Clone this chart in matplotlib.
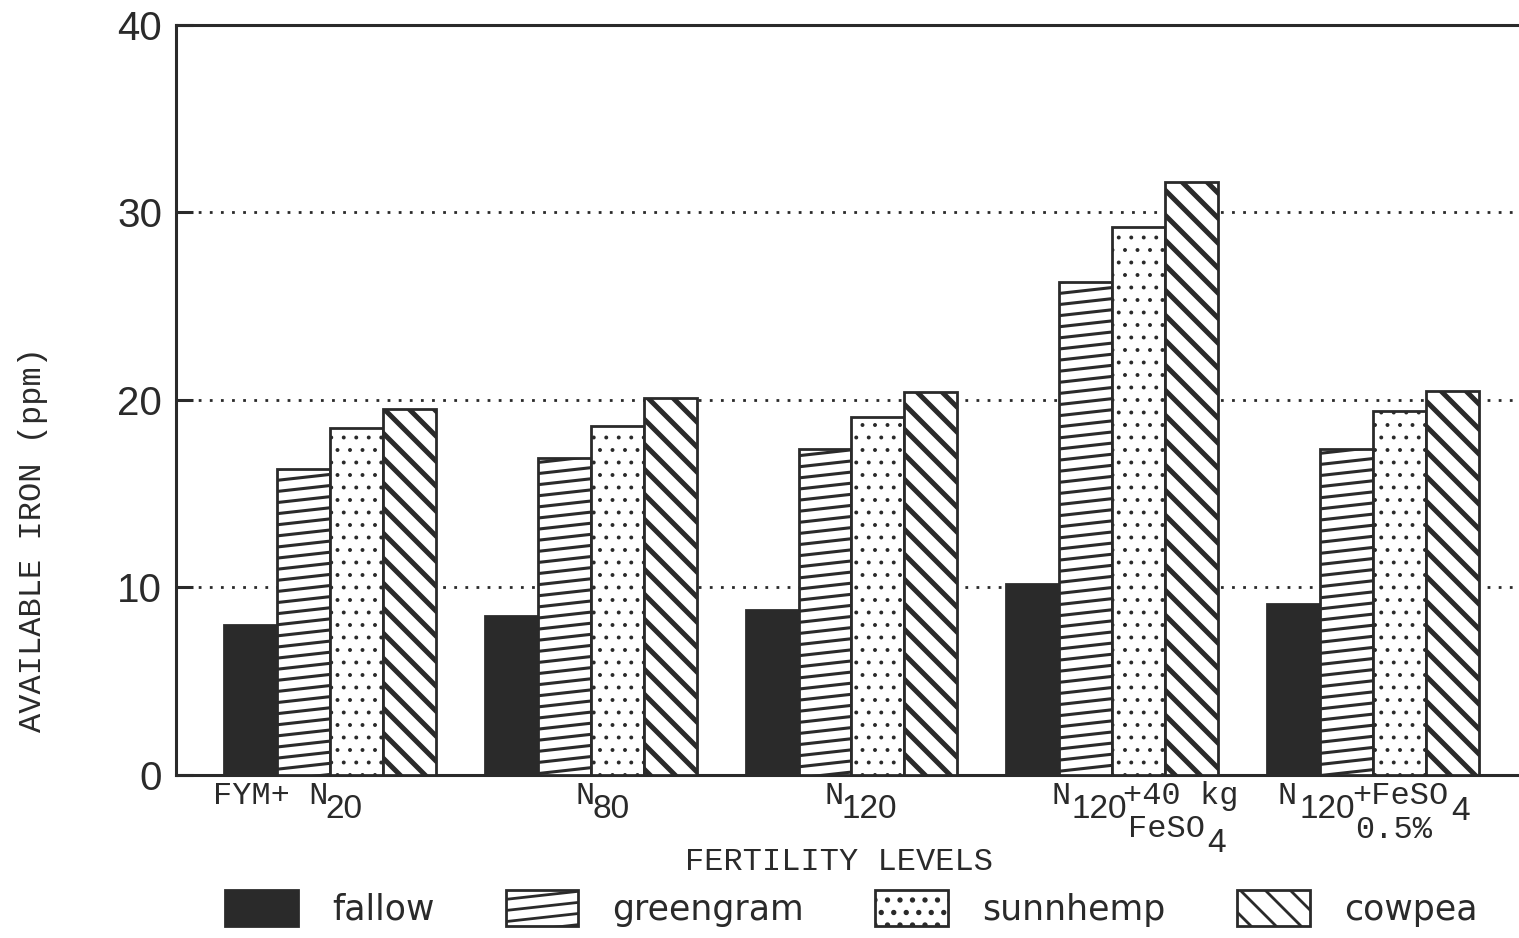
import numpy as np
import matplotlib
matplotlib.use("Agg")
import matplotlib.pyplot as plt
import matplotlib.hatch as mhatch
from matplotlib.path import Path

# available iron (ppm) per fertility level
levels = ["FYM+ N20", "N80", "N120", "N120+40 kg FeSO4", "N120+FeSO4 0.5%"]
fallow = [8.0, 8.5, 8.8, 10.2, 9.1]
greengram = [16.3, 16.9, 17.4, 26.3, 17.4]
sunnhemp = [18.5, 18.6, 19.1, 29.2, 19.4]
cowpea = [19.5, 20.1, 20.4, 31.6, 20.5]
series_names = ["fallow", "greengram", "sunnhemp", "cowpea"]
yticks = [0, 10, 20, 30, 40]

# tick label pieces (main text + sub/superscripts), typewriter style
level_parts = [
    ["FYM+ N", "20"],
    ["N", "80"],
    ["N", "120"],
    ["N", "120", "+40 kg", "FeSO", "4"],
    ["N", "120", "+FeSO", "4", "0.5%"],
]

ink = "#2a2a2a"
mono = "Liberation Mono"
sans = "Liberation Sans"


# --- hatches closer to the old plotter look ---
class ShallowHatch(mhatch.HatchPatternBase):
    # gently rising lines (greengram)
    def __init__(self, hatch, density):
        self.n = 9 if "/" in hatch else 0
        self.num_vertices = (self.n + 2) * 2 if self.n else 0

    def set_vertices_and_codes(self, vertices, codes):
        y = np.arange(-1, self.n + 1) / self.n
        vertices[0::2, 0] = 0.0
        vertices[0::2, 1] = y
        vertices[1::2, 0] = 1.0
        vertices[1::2, 1] = y + 1.0 / self.n
        codes[0::2] = Path.MOVETO
        codes[1::2] = Path.LINETO


class DownHatch(mhatch.HatchPatternBase):
    # 45 degree falling lines (cowpea)
    def __init__(self, hatch, density):
        self.n = 8 if "\\" in hatch else 0
        self.num_vertices = (self.n + 1) * 2 if self.n else 0

    def set_vertices_and_codes(self, vertices, codes):
        steps = np.linspace(-0.5, 0.5, self.n + 1)
        vertices[0::2, 0] = 0.0 + steps
        vertices[0::2, 1] = 1.0 + steps
        vertices[1::2, 0] = 1.0 + steps
        vertices[1::2, 1] = 0.0 + steps
        codes[0::2] = Path.MOVETO
        codes[1::2] = Path.LINETO


class SparseDots(mhatch.Circles):
    # sunnhemp stipple (num_rows must be even)
    size = 0.1
    filled = True

    def __init__(self, hatch, density):
        self.num_rows = 8 if "." in hatch else 0
        super().__init__(hatch, density)


mhatch._hatch_types = [h for h in mhatch._hatch_types
                       if h not in (mhatch.NorthEastHatch, mhatch.SouthEastHatch,
                                    mhatch.SmallFilledCircles)]
mhatch._hatch_types += [ShallowHatch, DownHatch, SparseDots]

plt.rcParams["hatch.linewidth"] = 2.0
plt.rcParams["hatch.color"] = ink

fig = plt.figure(figsize=(15.19, 9.38), dpi=100)
ax = fig.add_axes([0.1159, 0.1738, 0.8841, 0.7996])

x = np.arange(len(levels))
w = 0.203
values = [fallow, greengram, sunnhemp, cowpea]
fills = [ink, "white", "white", "white"]
hatches = [None, "/", ".", "\\"]
hlw = [2.0, 2.2, 1.0, 3.6]

handles = []
for k, vals in enumerate(values):
    bars = ax.bar(x + (k - 1.5) * w, vals, w, color=fills[k], edgecolor=ink,
                  linewidth=2.0, hatch=hatches[k], label=series_names[k], zorder=3)
    for b in bars:
        if hasattr(b, "set_hatch_linewidth"):
            b.set_hatch_linewidth(hlw[k])
    handles.append(bars)

ax.set_xlim(-0.59, 4.56)
ax.set_ylim(0, 40)
ax.set_yticks(yticks)
ax.set_yticklabels([str(t) for t in yticks], fontsize=29, family=sans, color=ink)
ax.tick_params(axis="y", direction="in", length=12, width=2.2, pad=10, colors=ink)
ax.tick_params(axis="x", bottom=False, labelbottom=False)

for s in ["left", "bottom", "top"]:
    ax.spines[s].set_linewidth(2.2)
    ax.spines[s].set_color(ink)
ax.spines["right"].set_visible(False)

ax.set_axisbelow(True)
ax.yaxis.grid(True, linestyle=(0, (1, 3)), linewidth=2.0, color=ink)

# pixel offsets for each label piece: (dx, dy, family)
part_offsets = [
    [(-117, -29, mono), (-5, -43, sans)],
    [(-15, -29, mono), (2, -43, sans)],
    [(-27, -29, mono), (-10, -43, sans)],
    [(-61, -29, mono), (-41, -43, sans), (11, -29, mono), (16, -62, mono), (95, -77, sans)],
    [(-95, -29, mono), (-73, -43, sans), (-21, -29, mono), (78, -45, sans), (-18, -63, mono)],
]
for i, parts in enumerate(level_parts):
    for txt, (dx, dy, fam) in zip(parts, part_offsets[i]):
        ax.annotate(txt, xy=(x[i], 0), xycoords=("data", "axes fraction"),
                    xytext=(dx, dy), textcoords="offset pixels",
                    ha="left", va="baseline", family=fam,
                    fontsize=24 if fam == sans else 23, color=ink,
                    annotation_clip=False)

fig.text(839 / 1519, 1 - 862 / 938, "FERTILITY LEVELS", family=mono, fontsize=23,
         ha="center", va="center", color=ink)
fig.text(33 / 1519, 1 - 540 / 938, "AVAILABLE IRON (ppm)", family=mono, fontsize=23,
         rotation=90, ha="center", va="center", color=ink)

leg = fig.legend(handles=handles, labels=series_names, loc="upper left",
                 bbox_to_anchor=(225 / 1519, 1 - 890 / 938), ncol=4, frameon=False,
                 prop={"family": "DejaVu Sans", "size": 25}, borderpad=0, borderaxespad=0,
                 handlelength=2.1, handleheight=1.2, handletextpad=0.98,
                 columnspacing=2.05, labelcolor=ink)

plt.savefig("out.png", dpi=100)
